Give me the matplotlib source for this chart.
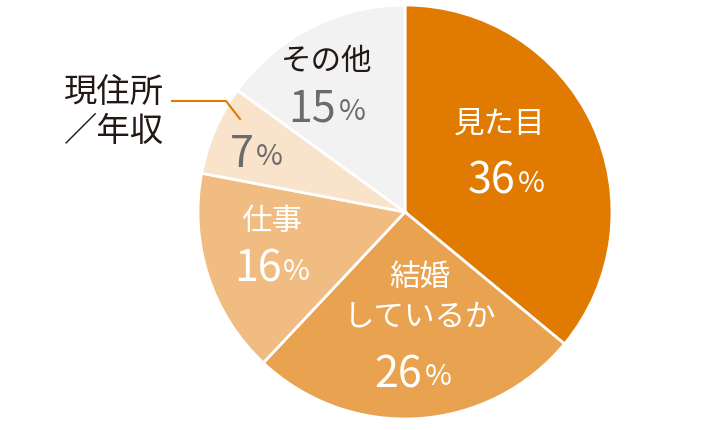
import matplotlib
matplotlib.use("Agg")
import matplotlib.pyplot as plt

plt.rcParams['font.family'] = ['Noto Sans CJK JP', 'DejaVu Sans']

# データ（見た目から時計回り）
labels = ["見た目", "結婚\nしているか", "仕事", "現住所\n／年収", "その他"]
values = [36, 26, 16, 7, 15]
colors = ["#E07A00", "#E9A24F", "#F0BC82", "#F9E3CB", "#F2F2F2"]

W, H = 702, 430
fig = plt.figure(figsize=(W / 100, H / 100), dpi=100)
ax = fig.add_axes([0, 0, 1, 1])

cx, cy, r = 405, H - 212, 207
ax.pie(values, colors=colors, startangle=90, counterclock=False,
       center=(cx, cy), radius=r, frame=True,
       wedgeprops=dict(edgecolor='white', linewidth=2))
ax.set_xlim(0, W)
ax.set_ylim(0, H)
ax.set_aspect('equal')
ax.axis('off')

fig.canvas.draw()
renderer = fig.canvas.get_renderer()


def pct_text(x, y, val, color, size=31):
    # 数字と小さめの「%」を並べて中央寄せ
    t1 = ax.text(0, y, str(val), fontsize=size, color=color, ha='left', va='center')
    t2 = ax.text(0, y, "%", fontsize=size * 0.68, color=color, ha='left', va='center')
    w1 = t1.get_window_extent(renderer).width
    w2 = t2.get_window_extent(renderer).width
    x0 = x - (w1 + w2 + 2) / 2
    t1.set_x(x0)
    t2.set_x(x0 + w1 + 2)
    t2.set_y(y - 2)


# ラベル
ax.text(500, H - 124, labels[0], fontsize=22, color='white', ha='center', va='center')
pct_text(506, H - 182, values[0], 'white')

ax.text(420, H - 297, labels[1], fontsize=22, color='white', ha='center', va='center',
        linespacing=1.35)
pct_text(413, H - 375, values[1], 'white')

ax.text(272, H - 221, labels[2], fontsize=22, color='white', ha='center', va='center')
pct_text(272, H - 270, values[2], 'white')

pct_text(256, H - 155, values[3], '#6B6B6B')
ax.text(114, H - 112, labels[3], fontsize=24, color='#231815', ha='center', va='center',
        linespacing=1.15)
ax.plot([172, 226, 240], [H - 101, H - 101, H - 119], color='#E07A00', lw=1.5)

ax.text(327, H - 62, labels[4], fontsize=22, color='#231815', ha='center', va='center')
pct_text(327, H - 110, values[4], '#6B6B6B')

fig.savefig("out.png", dpi=100)
plt.close(fig)
